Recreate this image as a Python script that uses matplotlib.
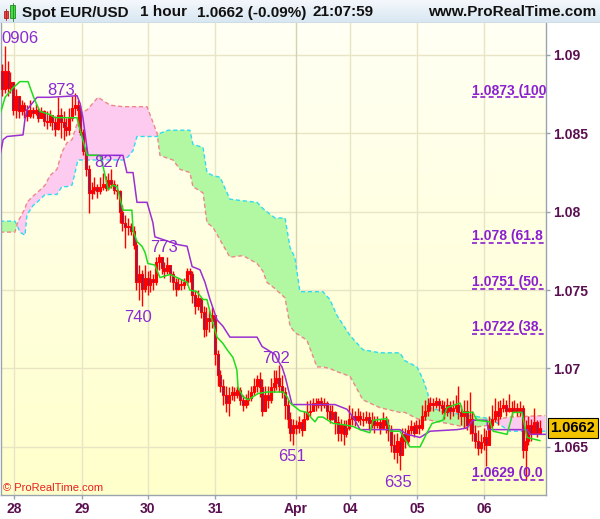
import numpy as np
import matplotlib.pyplot as plt
from matplotlib.colors import LinearSegmentedColormap
from matplotlib.patches import Rectangle
import matplotlib.transforms as mtransforms

plt.rcParams['font.family'] = ['Liberation Sans', 'DejaVu Sans']

# ---------- Datos: velas horarias Spot EUR/USD ----------
first_open = 1.0890
close = [
    1.0878, 1.0890, 1.0879, 1.0883, 1.0865, 1.0874, 1.0864, 1.0868, 1.0865, 1.0861,
    1.0865, 1.0863, 1.0865, 1.0860, 1.0864, 1.0858, 1.0857, 1.0862, 1.0857, 1.0853,
    1.0862, 1.0857, 1.0854, 1.0852, 1.0860, 1.0866, 1.0868, 1.0865, 1.0851, 1.0839,
    1.0827, 1.0812, 1.0814, 1.0816, 1.0813, 1.0816, 1.0818, 1.0815, 1.0820, 1.0818,
    1.0814, 1.0813, 1.0800, 1.0793, 1.0790, 1.0791, 1.0788, 1.0779, 1.0755, 1.0760,
    1.0751, 1.0758, 1.0753, 1.0757, 1.0755, 1.0768, 1.0771, 1.0764, 1.0762, 1.0766,
    1.0760, 1.0755, 1.0751, 1.0754, 1.0753, 1.0755, 1.0762, 1.0760, 1.0747, 1.0740,
    1.0745, 1.0736, 1.0725, 1.0732, 1.0730, 1.0734, 1.0709, 1.0696, 1.0689, 1.0683,
    1.0678, 1.0683, 1.0685, 1.0683, 1.0686, 1.0680, 1.0677, 1.0680, 1.0681, 1.0685,
    1.0689, 1.0693, 1.0688, 1.0673, 1.0683, 1.0680, 1.0688, 1.0691, 1.0694, 1.0689,
    1.0685, 1.0677, 1.0668, 1.0659, 1.0664, 1.0662, 1.0666, 1.0661, 1.0668, 1.0672,
    1.0673, 1.0678, 1.0677, 1.0679, 1.0677, 1.0678, 1.0673, 1.0668, 1.0672, 1.0666,
    1.0659, 1.0664, 1.0658, 1.0662, 1.0668, 1.0670, 1.0667, 1.0670, 1.0668, 1.0667,
    1.0669, 1.0665, 1.0667, 1.0664, 1.0666, 1.0662, 1.0667, 1.0664, 1.0661, 1.0651,
    1.0647, 1.0654, 1.0645, 1.0658, 1.0654, 1.0661, 1.0663, 1.0659, 1.0664, 1.0662,
    1.0670, 1.0673, 1.0677, 1.0678, 1.0677, 1.0679, 1.0677, 1.0675, 1.0672, 1.0677,
    1.0673, 1.0675, 1.0677, 1.0672, 1.0670, 1.0673, 1.0664, 1.0668, 1.0659, 1.0654,
    1.0649, 1.0653, 1.0656, 1.0651, 1.0664, 1.0668, 1.0673, 1.0670, 1.0675, 1.0677,
    1.0673, 1.0675, 1.0673, 1.0675, 1.0673, 1.0675, 1.0648, 1.0654, 1.0664, 1.0659,
    1.0666, 1.0659, 1.0662,
]
high = [
    1.0894, 1.0906, 1.0896, 1.0889, 1.0881, 1.0878, 1.0871, 1.0871, 1.0870, 1.0868,
    1.0871, 1.0867, 1.0869, 1.0866, 1.0867, 1.0865, 1.0864, 1.0865, 1.0862, 1.0861,
    1.0873, 1.0866, 1.0864, 1.0860, 1.0866, 1.0874, 1.0876, 1.0871, 1.0868, 1.0853,
    1.0841, 1.0830, 1.0819, 1.0822, 1.0818, 1.0822, 1.0825, 1.0823, 1.0825, 1.0827,
    1.0820, 1.0818, 1.0814, 1.0804, 1.0798, 1.0796, 1.0793, 1.0791, 1.0782, 1.0766,
    1.0763, 1.0766, 1.0762, 1.0763, 1.0760, 1.0771, 1.0773, 1.0771, 1.0768, 1.0771,
    1.0766, 1.0762, 1.0758, 1.0758, 1.0757, 1.0758, 1.0764, 1.0764, 1.0762, 1.0750,
    1.0750, 1.0744, 1.0740, 1.0739, 1.0737, 1.0739, 1.0734, 1.0712, 1.0699, 1.0693,
    1.0689, 1.0688, 1.0689, 1.0688, 1.0689, 1.0688, 1.0683, 1.0684, 1.0686, 1.0689,
    1.0694, 1.0696, 1.0698, 1.0693, 1.0689, 1.0689, 1.0694, 1.0699, 1.0699, 1.0702,
    1.0696, 1.0688, 1.0680, 1.0672, 1.0668, 1.0667, 1.0670, 1.0668, 1.0673, 1.0679,
    1.0680, 1.0681, 1.0681, 1.0681, 1.0682, 1.0681, 1.0679, 1.0677, 1.0677, 1.0673,
    1.0670, 1.0668, 1.0667, 1.0667, 1.0677, 1.0675, 1.0673, 1.0675, 1.0673, 1.0672,
    1.0673, 1.0672, 1.0672, 1.0670, 1.0670, 1.0668, 1.0672, 1.0670, 1.0668, 1.0664,
    1.0658, 1.0659, 1.0656, 1.0662, 1.0662, 1.0664, 1.0667, 1.0666, 1.0667, 1.0668,
    1.0677, 1.0680, 1.0681, 1.0682, 1.0681, 1.0682, 1.0681, 1.0680, 1.0679, 1.0681,
    1.0679, 1.0680, 1.0683, 1.0689, 1.0677, 1.0680, 1.0680, 1.0685, 1.0673, 1.0664,
    1.0661, 1.0658, 1.0662, 1.0661, 1.0670, 1.0677, 1.0681, 1.0679, 1.0680, 1.0681,
    1.0680, 1.0684, 1.0679, 1.0680, 1.0678, 1.0679, 1.0677, 1.0667, 1.0670, 1.0668,
    1.0675, 1.0667, 1.0667,
]
low = [
    1.0874, 1.0876, 1.0874, 1.0876, 1.0862, 1.0860, 1.0860, 1.0862, 1.0860, 1.0858,
    1.0860, 1.0860, 1.0862, 1.0857, 1.0860, 1.0855, 1.0853, 1.0855, 1.0852, 1.0848,
    1.0852, 1.0847, 1.0846, 1.0848, 1.0849, 1.0858, 1.0862, 1.0855, 1.0849, 1.0836,
    1.0823, 1.0799, 1.0808, 1.0811, 1.0809, 1.0811, 1.0814, 1.0813, 1.0814, 1.0815,
    1.0811, 1.0808, 1.0793, 1.0788, 1.0777, 1.0785, 1.0785, 1.0776, 1.0750, 1.0744,
    1.0740, 1.0749, 1.0747, 1.0749, 1.0750, 1.0753, 1.0763, 1.0760, 1.0758, 1.0760,
    1.0755, 1.0750, 1.0746, 1.0750, 1.0750, 1.0751, 1.0753, 1.0755, 1.0742, 1.0735,
    1.0737, 1.0732, 1.0720, 1.0721, 1.0723, 1.0726, 1.0702, 1.0689, 1.0685, 1.0677,
    1.0672, 1.0670, 1.0680, 1.0679, 1.0681, 1.0677, 1.0673, 1.0675, 1.0677, 1.0679,
    1.0683, 1.0685, 1.0682, 1.0670, 1.0673, 1.0675, 1.0678, 1.0685, 1.0686, 1.0685,
    1.0681, 1.0668, 1.0662, 1.0654, 1.0651, 1.0658, 1.0659, 1.0657, 1.0664, 1.0667,
    1.0670, 1.0673, 1.0673, 1.0675, 1.0673, 1.0675, 1.0668, 1.0665, 1.0667, 1.0658,
    1.0654, 1.0654, 1.0651, 1.0656, 1.0661, 1.0664, 1.0663, 1.0666, 1.0664, 1.0663,
    1.0665, 1.0661, 1.0662, 1.0659, 1.0662, 1.0658, 1.0662, 1.0659, 1.0654, 1.0647,
    1.0642, 1.0640, 1.0635, 1.0645, 1.0649, 1.0651, 1.0658, 1.0656, 1.0659, 1.0658,
    1.0661, 1.0667, 1.0670, 1.0673, 1.0673, 1.0675, 1.0673, 1.0671, 1.0668, 1.0670,
    1.0668, 1.0670, 1.0672, 1.0668, 1.0664, 1.0662, 1.0661, 1.0658, 1.0654, 1.0649,
    1.0645, 1.0646, 1.0648, 1.0638, 1.0651, 1.0662, 1.0666, 1.0664, 1.0668, 1.0672,
    1.0670, 1.0672, 1.0670, 1.0672, 1.0670, 1.0670, 1.0643, 1.0629, 1.0651, 1.0654,
    1.0658, 1.0656, 1.0658,
]
last_price = 1.0662

# Dias (posicion en barras horarias)
day_pos = [4.3, 28.6, 52.1, 76.1, 105.0, 124.3, 148.2, 172.1]
day_labels = ['28', '29', '30', '31', 'Apr', '04', '05', '06']
month_start = 105.0

price_ticks = [1.065, 1.07, 1.075, 1.08, 1.085, 1.09]
price_labels = ['1.065', '1.07', '1.075', '1.08', '1.085', '1.09']

# Ichimoku: Tenkan (verde) y Kijun (morado)
tenkan_x = [-0.7, 1.1, 3.9, 6.4, 9.3, 11.1, 12.5, 13.6, 17.1, 18.9,
            26.8, 27.9, 30.4, 35, 36.1, 37.9, 39.6, 41.1, 42.1, 43.2,
            46.4, 46.8, 48.2, 50, 51.1, 52.1, 54.6, 56.4, 60, 62.5,
            66.1, 67.1, 69.6, 71.8, 73.2, 75, 76.8, 78.9, 80.4, 82.5,
            83.9, 84.3, 86.1, 87.9, 91.4, 94.6, 100.4, 101.8, 102.9, 106.4,
            108.9, 110.7, 111.8, 112.9, 114.6, 118.2, 122.5, 125.4, 127.9, 131.4,
            132.5, 137.5, 138.6, 142.1, 145.7, 149.3, 151.8, 153.6, 157.5, 158.9,
            163.6, 164.6, 168.2, 169.6, 174.3, 175.4, 180.4, 182.5, 185.7, 187.5,
            192.1]
tenkan_y = [1.0862, 1.0873, 1.0879, 1.0883, 1.0883, 1.0874, 1.0868, 1.0864, 1.0862, 1.0860,
            1.0860, 1.0852, 1.0836, 1.0836, 1.0829, 1.0814, 1.0817, 1.0816, 1.0809, 1.0801,
            1.0801, 1.0788, 1.0781, 1.0778, 1.0774, 1.0767, 1.0766, 1.0758, 1.0760, 1.0758,
            1.0755, 1.0750, 1.0749, 1.0744, 1.0744, 1.0731, 1.0720, 1.0716, 1.0712, 1.0707,
            1.0699, 1.0688, 1.0682, 1.0680, 1.0684, 1.0685, 1.0685, 1.0682, 1.0678, 1.0673,
            1.0672, 1.0668, 1.0666, 1.0669, 1.0669, 1.0665, 1.0664, 1.0663, 1.0661, 1.0659,
            1.0667, 1.0668, 1.0660, 1.0660, 1.0650, 1.0650, 1.0659, 1.0665, 1.0667, 1.0675,
            1.0678, 1.0672, 1.0672, 1.0667, 1.0666, 1.0660, 1.0658, 1.0672, 1.0672, 1.0656,
            1.0654]
kijun_x = [-0.7, 0.4, 1.8, 7.5, 8.2, 8.9, 12.5, 17.1, 26.8, 27.9,
           28.9, 30.7, 43.2, 44.6, 46.8, 48.2, 51.8, 53.9, 54.6, 62.9,
           66.1, 67.9, 70.7, 72.5, 74.3, 76.8, 78.9, 81.4, 91.1, 92.9,
           97.5, 98.6, 100, 101.1, 102.9, 103.6, 118.9, 123.2, 125.4, 127.9,
           142.1, 144.6, 149.3, 152.9, 162.5, 166, 168.2, 173.2, 173.6, 187.5,
           188.6, 194]
kijun_y = [1.0836, 1.0846, 1.0848, 1.0849, 1.0859, 1.0865, 1.0873, 1.0873, 1.0874, 1.0869,
           1.0860, 1.0836, 1.0836, 1.0825, 1.0825, 1.0806, 1.0806, 1.0793, 1.0784, 1.0779,
           1.0778, 1.0765, 1.0763, 1.0755, 1.0744, 1.0731, 1.0727, 1.0720, 1.0720, 1.0714,
           1.0709, 1.0705, 1.0701, 1.0695, 1.0682, 1.0677, 1.0677, 1.0674, 1.0669, 1.0661,
           1.0661, 1.0658, 1.0656, 1.0660, 1.0661, 1.0662, 1.0667, 1.0667, 1.0661, 1.0661,
           1.0658, 1.0658]

# Nube: Senkou Span A (cian) y Span B (rosa)
cloud_x = [-0.7, 4.6, 5.7, 6.4, 8.2, 8.9, 11.1, 12.5, 15.4, 17.1,
           19.6, 21.4, 23.2, 25.0, 26.1, 27.1, 27.9, 30.4, 34.3, 38.6,
           43.2, 45.0, 46.8, 48.2, 51.8, 55.4, 56.4, 59.3, 61.1, 63.6,
           67.1, 68.2, 71.8, 73.2, 75.4, 77.9, 81.4, 86.1, 91.1, 93.2,
           94.6, 97.5, 101.1, 102.9, 104.6, 106.4, 108.9, 112.5, 114.6, 117.1,
           119.6, 124.3, 128.9, 135.0, 142.1, 143.9, 148.2, 150.4, 152.1, 152.9,
           158.9, 167.1, 174.3, 177.9, 181.4, 194.0]
span_a = [1.0794, 1.0794, 1.0790, 1.0787, 1.0785, 1.0798, 1.0804, 1.0806, 1.0811, 1.0811,
          1.0811, 1.0816, 1.0816, 1.0817, 1.0825, 1.0833, 1.0833, 1.0833, 1.0833, 1.0833,
          1.0833, 1.0835, 1.0839, 1.0848, 1.0848, 1.0848, 1.0850, 1.0852, 1.0852, 1.0852,
          1.0852, 1.0843, 1.0841, 1.0825, 1.0823, 1.0822, 1.0808, 1.0807, 1.0806, 1.0802,
          1.0800, 1.0796, 1.0796, 1.0777, 1.0771, 1.0749, 1.0749, 1.0749, 1.0749, 1.0744,
          1.0734, 1.0721, 1.0712, 1.0710, 1.0710, 1.0705, 1.0701, 1.0693, 1.0684, 1.0675,
          1.0672, 1.0670, 1.0668, 1.0664, 1.0660, 1.0660]
span_b = [1.0787, 1.0787, 1.0794, 1.0796, 1.0802, 1.0806, 1.0810, 1.0812, 1.0817, 1.0823,
          1.0827, 1.0838, 1.0844, 1.0846, 1.0852, 1.0858, 1.0863, 1.0865, 1.0873, 1.0868,
          1.0867, 1.0867, 1.0867, 1.0867, 1.0867, 1.0850, 1.0836, 1.0834, 1.0833, 1.0827,
          1.0825, 1.0816, 1.0812, 1.0793, 1.0790, 1.0782, 1.0771, 1.0772, 1.0767, 1.0762,
          1.0755, 1.0751, 1.0745, 1.0727, 1.0723, 1.0721, 1.0718, 1.0701, 1.0701, 1.0700,
          1.0698, 1.0695, 1.0680, 1.0675, 1.0672, 1.0672, 1.0668, 1.0667, 1.0667, 1.0667,
          1.0665, 1.0662, 1.0664, 1.0668, 1.0669, 1.0670]

# Maximos / minimos marcados
swing_x = [6.4, 21.1, 37.9, 57.9, 48.6, 97.9, 103.6, 141.4]
swing_price = [1.0906, 1.0873, 1.0827, 1.0773, 1.0740, 1.0702, 1.0651, 1.0635]
swing_text = ['0906', '873', '827', '773', '740', '702', '651', '635']
swing_high = [True, True, True, True, False, True, False, False]

# Niveles de Fibonacci (texto tal como se ve, cortado por el borde del grafico)
fib_price = [1.0873, 1.078, 1.0751, 1.0722, 1.0629]
fib_text = ['1.0873 (100', '1.078 (61.8', '1.0751 (50.', '1.0722 (38.', '1.0629 (0.0']
fib_start = 167.9

# ---------- Figura ----------
W, H = 600, 519
fig = plt.figure(figsize=(W / 100, H / 100), dpi=100)
fig.patch.set_facecolor('white')

ax_top, ax_bot = 23, 495
ax = fig.add_axes([1 / W, (H - ax_bot) / H, 545 / W, (ax_bot - ax_top) / H])
xmin, xmax = -0.36, 194.3
ymin, ymax = 1.06193, 1.09204

bg = LinearSegmentedColormap.from_list('bg', ['#fffff4', '#ffffcb'])
ax.imshow(np.linspace(0, 1, 256).reshape(-1, 1), cmap=bg, extent=[0, 1, 0, 1],
          transform=ax.transAxes, aspect='auto', zorder=0)

grid_c = '#e8e5c5'
for p in price_ticks:
    ax.axhline(p, color=grid_c, lw=1, zorder=0.5)
for d in day_pos:
    ax.axvline(d, color='#d4d2b2' if d == month_start else grid_c, lw=1, zorder=0.5)

# nube
ca, cb = np.array(span_a), np.array(span_b)
ax.fill_between(cloud_x, ca, cb, where=ca >= cb, interpolate=True,
                color='#b2f7a2', lw=0, zorder=1)
ax.fill_between(cloud_x, ca, cb, where=ca < cb, interpolate=True,
                color='#fccbef', lw=0, zorder=1)
ax.plot(cloud_x, span_a, color='#2fdcef', lw=1, ls=(0, (3, 2)), zorder=2)
ax.plot(cloud_x, span_b, color='#ee8888', lw=1, ls=(0, (3, 2)), zorder=2)

# velas
c = np.array(close)
hi = np.array(high)
lo = np.array(low)
o = np.r_[first_open, c[:-1]]
x = np.arange(len(c))
up = c >= o
body_lo = np.minimum(o, c)
body_h = np.maximum(np.abs(c - o), 0.00003)
ax.vlines(x, np.minimum(lo, body_lo), np.maximum(hi, body_lo + body_h),
          color='#ff0000', lw=1, zorder=3)
ax.bar(x[up], body_h[up], bottom=body_lo[up], width=0.75, facecolor='none',
       edgecolor='#ff0000', lw=0.8, zorder=3)
ax.bar(x[~up], body_h[~up], bottom=body_lo[~up], width=0.75, facecolor='#5a2a80',
       edgecolor='#ff0000', lw=0.8, zorder=3)

# tenkan / kijun
ax.plot(kijun_x, kijun_y, color='#9a2fd2', lw=1.1, zorder=4)
ax.plot(tenkan_x, tenkan_y, color='#1edc1e', lw=1.1, zorder=4)

# etiquetas de maximos/minimos
for xs, ps, t, is_hi in zip(swing_x, swing_price, swing_text, swing_high):
    ax.annotate(t, (xs, ps), xytext=(0, 1.5 if is_hi else -3), textcoords='offset points',
                ha='center', va='baseline' if is_hi else 'top',
                color='#8a2ad2', fontsize=12, zorder=6)

# Fibonacci
fib_c = '#8a1fd0'
for p, t in zip(fib_price, fib_text):
    ax.plot([fib_start, xmax], [p, p], color=fib_c, lw=1.2, ls=(0, (3, 2)), zorder=5)
    ax.annotate(t, (fib_start, p), xytext=(0, 2), textcoords='offset points',
                ha='left', va='baseline', fontsize=10, fontweight='bold',
                color=fib_c, clip_on=True, zorder=6)

ax.text(0.004, 0.004, '\u00a9 ProRealTime.com', transform=ax.transAxes,
        color='#e82020', fontsize=8, ha='left', va='bottom', zorder=6)

ax.set_xlim(xmin, xmax)
ax.set_ylim(ymin, ymax)

# ejes
lab_c = '#5a1050'
spine_c = '#9aa4ae'
ax.yaxis.tick_right()
ax.set_yticks(price_ticks)
ax.set_yticklabels(price_labels, fontsize=10, fontweight='bold', color=lab_c)
ax.set_xticks(day_pos)
ax.set_xticklabels(day_labels, fontsize=10, fontweight='bold', color=lab_c)
ax.tick_params(axis='both', length=3, width=1, color=spine_c, pad=2)
for s in ['left', 'right', 'bottom']:
    ax.spines[s].set_color(spine_c)
    ax.spines[s].set_linewidth(1)
ax.spines['top'].set_visible(False)

# caja del ultimo precio
trans = mtransforms.blended_transform_factory(ax.transAxes, ax.transData)
ax.text(1.008, last_price, f'{last_price:.4f}', transform=trans, ha='left', va='center',
        fontsize=10.5, fontweight='bold', color='black', clip_on=False, zorder=7,
        bbox=dict(boxstyle='square,pad=0.18', fc='#f4c300', ec='black', lw=0.8))

# ---------- Barra de titulo ----------
tb = fig.add_axes([0, 1 - ax_top / H, 1, ax_top / H])
tbg = LinearSegmentedColormap.from_list('tb', ['#f4f8fc', '#d8e6f1'])
tb.imshow(np.linspace(0, 1, 64).reshape(-1, 1), cmap=tbg, extent=[0, W, ax_top, 0],
          aspect='auto')
tb.set_xlim(0, W)
tb.set_ylim(ax_top, 0)
tb.axis('off')
tb.axhline(ax_top - 0.5, color='#a9b4bf', lw=1)
tb.add_patch(Rectangle((4, 11), 4, 7, fc='#ee4444', ec='#aa2222', lw=0.6))
tb.plot([6, 6], [9, 20], color='#aa2222', lw=0.6)
tb.add_patch(Rectangle((10, 5), 5, 13, fc='#44dd44', ec='#228822', lw=0.6))
tb.plot([12.5, 12.5], [3, 21], color='#228822', lw=0.6)

title_y = 1 - 12.5 / H
for txt, px in [('Spot EUR/USD', 22), ('1 hour', 140), ('1.0662 (-0.09%)', 197),
                ('21:07:59', 313)]:
    fig.text(px / W, title_y, txt, fontsize=11, fontweight='bold', color='#111111',
             ha='left', va='center')
fig.text(596 / W, title_y, 'www.ProRealTime.com', fontsize=11, fontweight='bold',
         color='#111111', ha='right', va='center')

fig.savefig('out.png', dpi=100)
